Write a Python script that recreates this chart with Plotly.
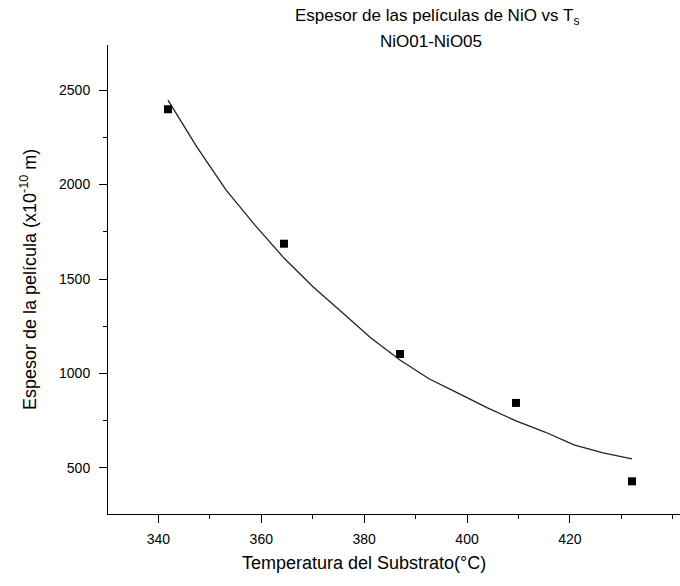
import plotly.graph_objects as go

# Measured film thickness (x10^-10 m) vs substrate temperature (°C)
temp_c = [340, 360, 380, 400, 420]
thickness = [2399, 1687, 1103, 844, 429]

# Fitted decay curve as drawn in the reference
fit_temp = [340, 345, 350, 355, 360, 365, 370, 375, 380, 385, 390, 395, 400, 405, 410, 415, 420]
fit_thickness = [2447, 2198, 1972, 1785, 1611, 1459, 1324, 1188, 1071, 972, 896, 819, 749, 690, 622, 580, 548]

x_tick_vals = [340, 360, 380, 400, 420]
y_tick_vals = [500, 1000, 1500, 2000, 2500]

FONT = "Liberation Sans, Arial, sans-serif"

fig = go.Figure()
fig.add_trace(go.Scatter(x=fit_temp, y=fit_thickness, mode="lines",
                         line=dict(color="#222222", width=1.3),
                         xaxis="x2", yaxis="y", showlegend=False))
fig.add_trace(go.Scatter(x=temp_c, y=thickness, mode="markers",
                         marker=dict(symbol="square", size=8, color="black"),
                         xaxis="x2", yaxis="y", showlegend=False))
# invisible trace anchoring the visible temperature axis
fig.add_trace(go.Scatter(x=[x_tick_vals[0]], y=[y_tick_vals[0]], mode="markers",
                         marker=dict(opacity=0), hoverinfo="skip", showlegend=False))

fig.update_layout(
    width=680, height=586,
    margin=dict(l=108, r=0, t=45, b=72),
    paper_bgcolor="white", plot_bgcolor="white",
    font=dict(family=FONT, color="black"),
    xaxis=dict(range=[330.2, 441.4], tickvals=x_tick_vals, ticks="outside", ticklen=8,
               tickwidth=1, tickcolor="black", showline=True, linecolor="black", linewidth=1,
               showgrid=False, zeroline=False, tickfont=dict(size=14, family=FONT, color="black"),
               ticklabelstandoff=4,
               minor=dict(dtick=10, tick0=330, ticks="outside", ticklen=4, tickcolor="black",
                          showgrid=False)),
    xaxis2=dict(range=[329.66, 428.28], overlaying="x", visible=False, showgrid=False,
                zeroline=False),
    yaxis=dict(range=[256, 2739], tickvals=y_tick_vals, ticks="outside", ticklen=8,
               tickwidth=1, tickcolor="black", showline=True, linecolor="black", linewidth=1,
               showgrid=False, zeroline=False, tickfont=dict(size=14, family=FONT, color="black"),
               ticklabelstandoff=6,
               minor=dict(dtick=250, tick0=250, ticks="outside", ticklen=4, tickcolor="black",
                          showgrid=False)),
    annotations=[
        dict(text="Espesor de las películas de NiO vs T<sub>s</sub>", xref="paper", yref="paper",
             x=0.575, y=1.0597, xanchor="center", yanchor="middle", showarrow=False,
             font=dict(size=17, family=FONT)),
        dict(text="NiO01-NiO05", xref="paper", yref="paper",
             x=0.565, y=1.0085, xanchor="center", yanchor="middle", showarrow=False,
             font=dict(size=17, family=FONT)),
        dict(text="Temperatura del Substrato(°C)", xref="paper", yref="paper",
             x=0.4476, y=-0.1045, xanchor="center", yanchor="middle", showarrow=False,
             font=dict(size=18, family=FONT)),
        dict(text="Espesor de la película (x10<sup>-10</sup> m)", xref="paper", yref="paper",
             x=-0.138, y=0.499, xanchor="center", yanchor="middle", showarrow=False,
             textangle=-90, font=dict(size=18, family=FONT)),
    ],
)

fig.write_html("out.html")
